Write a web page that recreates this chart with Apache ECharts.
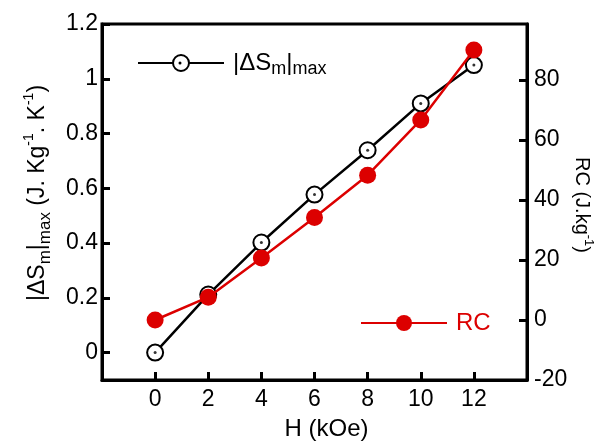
<!DOCTYPE html>
<html><head><meta charset="utf-8">
<script src="https://cdn.jsdelivr.net/npm/echarts@6/dist/echarts.min.js"></script>
<style>html,body{margin:0;padding:0;background:#fff}#c{width:596px;height:445px}</style>
</head><body><div id="c"></div>
<script>
var fieldH = [0, 2, 4, 6, 8, 10, 12];
var deltaSm = [0.0, 0.212, 0.402, 0.577, 0.739, 0.91, 1.05];
var rcValues = [0, 7.6, 20.7, 34.2, 48.3, 66.7, 90];
var xTicks = [0, 2, 4, 6, 8, 10, 12];
var leftTicks = [0, 0.2, 0.4, 0.6, 0.8, 1, 1.2];
var rightTicks = [-20, 0, 20, 40, 60, 80];

var FONT = "'Liberation Sans', Arial, sans-serif";
var RED = '#dc0000';
var chart = echarts.init(document.getElementById('c'));

function pairs(xs, ys){ return xs.map(function(x,i){ return [x, ys[i]]; }); }

var option = {
  animation: false,
  grid: {left: 102, right: 69, top: 24, bottom: 65, show: true, borderColor: '#000', borderWidth: 3,
    containLabel: false, outerBoundsMode: 'none'},
  xAxis: {
    type: 'value', min: -2, max: 14, interval: 2,
    name: 'H (kOe)', nameLocation: 'middle', nameGap: 37, nameMoveOverlap: false,
    nameTextStyle: {fontSize: 24, fontFamily: FONT, color: '#000', padding: [0, 0, 0, 24]},
    axisLine: {show: true, onZero: false, lineStyle: {color: '#000', width: 3}},
    axisTick: {show: true, inside: true, length: 8, lineStyle: {color: '#000', width: 3}, customValues: xTicks},
    axisLabel: {fontSize: 23, fontFamily: FONT, color: '#000', margin: 8, customValues: xTicks},
    splitLine: {show: false}
  },
  yAxis: [{
    type: 'value', min: -0.1, max: 1.2, position: 'left',
    name: '{n||ΔS}{s|m}{n||}{s|max}{n| (J. Kg}{p|-1}{n|. K}{p|-1}{n|)}',
    nameLocation: 'middle', nameRotate: 90, nameGap: 48, nameMoveOverlap: false,
    nameTextStyle: {padding: [0, 0, 0, 18], rich: {
      n: {fontSize: 23, fontFamily: FONT, color: '#000', lineHeight: 32, verticalAlign: 'middle'},
      s: {fontSize: 17, fontFamily: FONT, color: '#000', lineHeight: 17, verticalAlign: 'bottom'},
      p: {fontSize: 14, fontFamily: FONT, color: '#000', lineHeight: 14, verticalAlign: 'top'}
    }},
    axisLine: {show: true, onZero: false, lineStyle: {color: '#000', width: 3}},
    axisTick: {show: true, inside: true, length: 8, lineStyle: {color: '#000', width: 3}, customValues: leftTicks},
    axisLabel: {fontSize: 23, fontFamily: FONT, color: '#000', margin: 4, customValues: leftTicks,
      formatter: function(v){ return String(Math.round(v*10)/10); }},
    splitLine: {show: false}
  }, {
    type: 'value', min: -20, max: 98.7, position: 'right',
    name: '{n|RC (J.kg}{p|-1}{n|)}',
    nameLocation: 'middle', nameRotate: -90, nameGap: 42, nameMoveOverlap: false,
    nameTextStyle: {padding: [0, 0, 0, 6], rich: {
      n: {fontSize: 20, fontFamily: FONT, color: '#000', lineHeight: 26, verticalAlign: 'middle'},
      p: {fontSize: 13, fontFamily: FONT, color: '#000', lineHeight: 13, verticalAlign: 'top'}
    }},
    axisLine: {show: true, onZero: false, lineStyle: {color: '#000', width: 3}},
    axisTick: {show: true, inside: true, length: 8, lineStyle: {color: '#000', width: 3}, customValues: rightTicks},
    axisLabel: {fontSize: 23, fontFamily: FONT, color: '#000', margin: 7, customValues: rightTicks},
    splitLine: {show: false}
  }],
  legend: [{
    data: ['dS'], left: 132, top: 46, itemWidth: 86, itemHeight: 20,
    formatter: function(){ return '{n||ΔS}{s|m}{n||}{s|max}'; },
    textStyle: {padding: [0, 0, 0, 4], rich: {
      n: {fontSize: 24, fontFamily: FONT, color: '#000', lineHeight: 30, verticalAlign: 'middle'},
      s: {fontSize: 18, fontFamily: FONT, color: '#000', lineHeight: 18, verticalAlign: 'bottom'}
    }}
  }, {
    data: ['RC'], left: 355, top: 306, itemWidth: 86, itemHeight: 20,
    textStyle: {fontSize: 24, fontFamily: FONT, color: RED, padding: [0, 0, 0, 4]}
  }],
  series: [{
    name: 'dS', type: 'line', yAxisIndex: 0, data: pairs(fieldH, deltaSm),
    symbol: 'emptyCircle', symbolSize: 16,
    lineStyle: {color: '#000', width: 2.5},
    itemStyle: {color: '#000', borderColor: '#000', borderWidth: 2}
  }, {
    name: 'dot', type: 'scatter', yAxisIndex: 0, data: pairs(fieldH, deltaSm),
    symbol: 'circle', symbolSize: 3, itemStyle: {color: '#000'}, z: 3
  }, {
    name: 'RC', type: 'line', yAxisIndex: 1, data: pairs(fieldH, rcValues),
    symbol: 'circle', symbolSize: 17,
    lineStyle: {color: RED, width: 2.5},
    itemStyle: {color: RED}, z: 4
  }],
  graphic: [{type: 'circle', left: 178.5, top: 61.5, shape: {r: 1.5}, style: {fill: '#000'}, z: 100}]
};
chart.setOption(option);
</script></body></html>
